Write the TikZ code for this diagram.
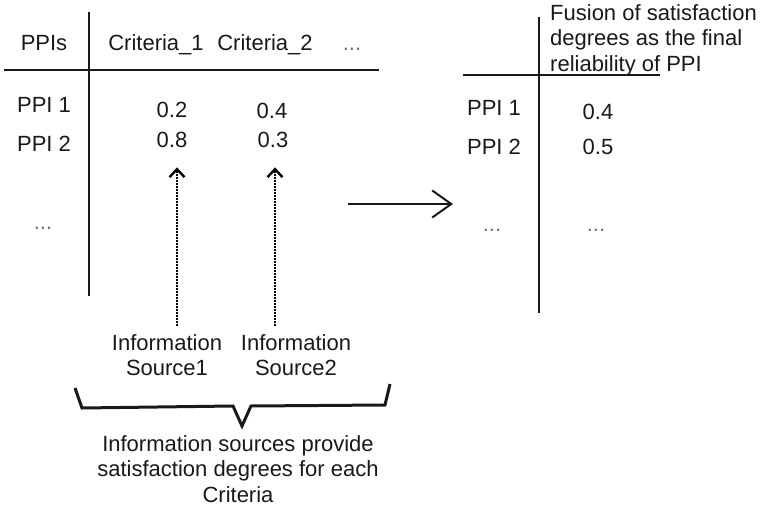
\documentclass[tikz,border=0pt]{standalone}
\usepackage{fontspec}
\setmainfont{Liberation Sans}
\usetikzlibrary{arrows.meta}
\begin{document}
\begin{tikzpicture}[x=1pt,y=-1pt,
  txt/.style={inner sep=0pt, font=\fontsize{22}{25.5}\selectfont, text=black!90, anchor=base},
  dots/.style={txt, text=black!55},
  multi/.style={txt, align=center, anchor=north},
  rule/.style={line width=2.4pt, draw=black!90},
  dotarrow/.style={line width=2.4pt, dash pattern=on 1.8pt off 1.2pt, draw=black,
    -{Straight Barb[length=8pt,width=15pt,line width=2.4pt,sep=0pt]}},
  mainarrow/.style={line width=2pt, draw=black!90,
    -{Straight Barb[length=19pt,width=27pt,line width=2pt]}},
  brace/.style={line width=3pt, draw=black!90, line join=miter}]
\useasboundingbox (0,0) rectangle (763,508);

% left table rules
\draw[rule] (89,12) -- (89,296);
\draw[rule] (4,70) -- (379,70);
% left table header
\node[txt] (hppi) at (44,51) {PPIs};
\node[txt] (hc1) at (156,51) {Criteria\_1};
\node[txt] (hc2) at (265,51) {Criteria\_2};
\node[dots] (hdots) at (352,51) {...};
% left table rows
\node[txt] (r1) at (44,113) {PPI 1};
\node[txt] (r2) at (44,151) {PPI 2};
\node[dots] (rdots) at (43,229) {...};
\node[txt] (v11) at (172,118) {0.2};
\node[txt] (v12) at (272,119) {0.4};
\node[txt] (v21) at (172,147) {0.8};
\node[txt] (v22) at (273,147) {0.3};

% right table rules
\draw[rule] (539,17) -- (539,313);
\draw[rule] (463,75) -- (660,75);
\node[txt, align=left, anchor=north west] (fus) at (550,4)
  {Fusion of satisfaction\\degrees as the final\\reliability of PPI};
\node[txt] (q1) at (494,116) {PPI 1};
\node[txt] (q2) at (494,155) {PPI 2};
\node[txt] (f1) at (598,120) {0.4};
\node[txt] (f2) at (598,154) {0.5};
\node[dots] (qdots) at (492,231) {...};
\node[dots] (fdots) at (596,231) {...};

% main arrow
\coordinate (ma) at (348,204);
\coordinate (mb) at (453,204);
\draw[mainarrow] (ma) -- (mb);

% information sources
\node[multi] (src1) at (167,334) {Information\\Source1};
\node[multi] (src2) at (296,334) {Information\\Source2};
\draw[dotarrow] ([xshift=5pt]v21.south |- src1.north) ++(0,-8) -- ([xshift=5pt,yshift=-20pt]v21.south);
\draw[dotarrow] ([xshift=2pt]v22.south |- src2.north) ++(0,-8) -- ([xshift=2pt,yshift=-20pt]v22.south);

% brace
\draw[brace] (75,388) -- (82,408) -- (233,406) -- (242,426) -- (251,406) -- (385,405) -- (390,384);

% bottom caption
\node[multi] (cap) at (238,435) {Information sources provide\\satisfaction degrees for each\\Criteria};
\end{tikzpicture}
\end{document}
